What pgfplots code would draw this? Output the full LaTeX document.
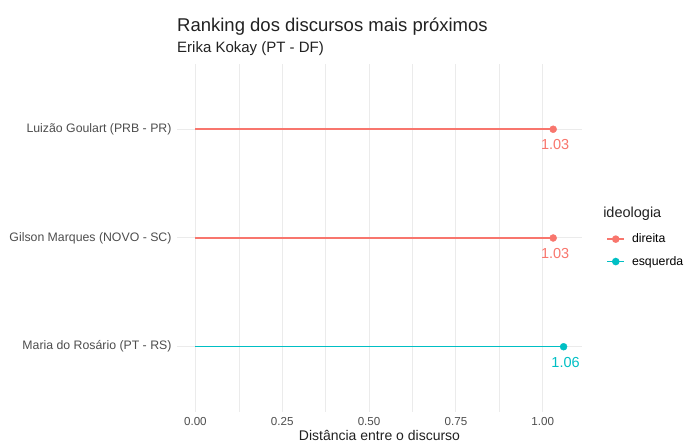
\documentclass[border=0pt]{standalone}
\usepackage{pgfplots}
\pgfplotsset{compat=1.18}
\usepackage{fontspec}
\setmainfont{Liberation Sans}
\definecolor{cdir}{HTML}{F8766D}
\definecolor{cesq}{HTML}{00BFC4}
\definecolor{grid}{HTML}{EBEBEB}
\definecolor{tick}{HTML}{4D4D4D}
\begin{document}
\begin{tikzpicture}[x=1pt,y=1pt]
\path[use as bounding box] (0,0) rectangle (688,443);
\node[anchor=base west, inner sep=0, font=\fontsize{18.5}{22}\selectfont, text=black!87] at (177,411) {Ranking dos discursos mais próximos};
\node[anchor=base west, inner sep=0, font=\fontsize{15}{18}\selectfont, text=black!87] at (177,390) {Erika Kokay (PT - DF)};
\begin{axis}[
  at={(177pt,31pt)}, anchor=south west,
  scale only axis, width=405pt, height=348pt,
  xmin=-0.053, xmax=1.113, ymin=0.4, ymax=3.6,
  axis line style={draw=none},
  major tick length=0pt, minor tick length=0pt,
  xtick={0,0.25,0.5,0.75,1},
  minor xtick={0.125,0.375,0.625,0.875},
  xticklabels={0.00,0.25,0.50,0.75,1.00},
  ytick={1,2,3},
  yticklabels={Maria do Rosário (PT - RS),Gilson Marques (NOVO - SC),Luizão Goulart (PRB - PR)},
  xmajorgrids, xminorgrids, ymajorgrids,
  major grid style={draw=grid, line width=1pt},
  minor grid style={draw=grid, line width=0.6pt},
  xticklabel style={font=\fontsize{11.6}{13}\selectfont, text=tick, yshift=-2pt},
  yticklabel style={font=\fontsize{12.3}{14}\selectfont, text=tick, xshift=-2pt},
  /pgf/number format/assume math mode=true,
  legend style={at={(rel axis cs:1.06,0.518)}, anchor=north west, draw=none, fill=none,
    font=\fontsize{12.3}{14}\selectfont, row sep=8pt, column sep=5pt, inner sep=0pt},
  legend cell align=left,
  nodes near coords,
  point meta=x,
  every node near coord/.append style={anchor=north, yshift=-7pt, xshift=2pt, font=\fontsize{14.5}{17}\selectfont,
     /pgf/number format/fixed, /pgf/number format/fixed zerofill, /pgf/number format/precision=2, /pgf/number format/assume math mode=true},
  clip=false,
]
\addplot[xcomb, draw=cdir, line width=1.5pt, mark=*, mark size=3.5pt, mark options={solid, fill=cdir, draw=cdir, line width=0.4pt},
  nodes near coords style={text=cdir},
  legend image code/.code={\draw[cdir, line width=1.5pt] (0pt,0pt) -- (17pt,0pt); \fill[cdir] (8.5pt,0pt) circle (3pt);}]
  coordinates {(1.03,3) (1.03,2)};
\addlegendentry{direita}
\addplot[xcomb, draw=cesq, line width=1.5pt, mark=*, mark size=3.5pt, mark options={solid, fill=cesq, draw=cesq, line width=0.4pt},
  nodes near coords style={text=cesq},
  legend image code/.code={\draw[cesq, line width=1.5pt] (0pt,0pt) -- (17pt,0pt); \fill[cesq] (8.5pt,0pt) circle (3pt);}]
  coordinates {(1.06,1)};
\addlegendentry{esquerda}
\node[anchor=base west, inner sep=0, font=\fontsize{14.5}{17}\selectfont, text=black!87] at (rel axis cs:1.052,0.56) {ideologia};
\node[anchor=north, inner sep=0, font=\fontsize{14}{16}\selectfont, text=black!87] at (rel axis cs:0.5,0) [yshift=-18.5pt] {Distância entre o discurso};
\end{axis}
\end{tikzpicture}
\end{document}
